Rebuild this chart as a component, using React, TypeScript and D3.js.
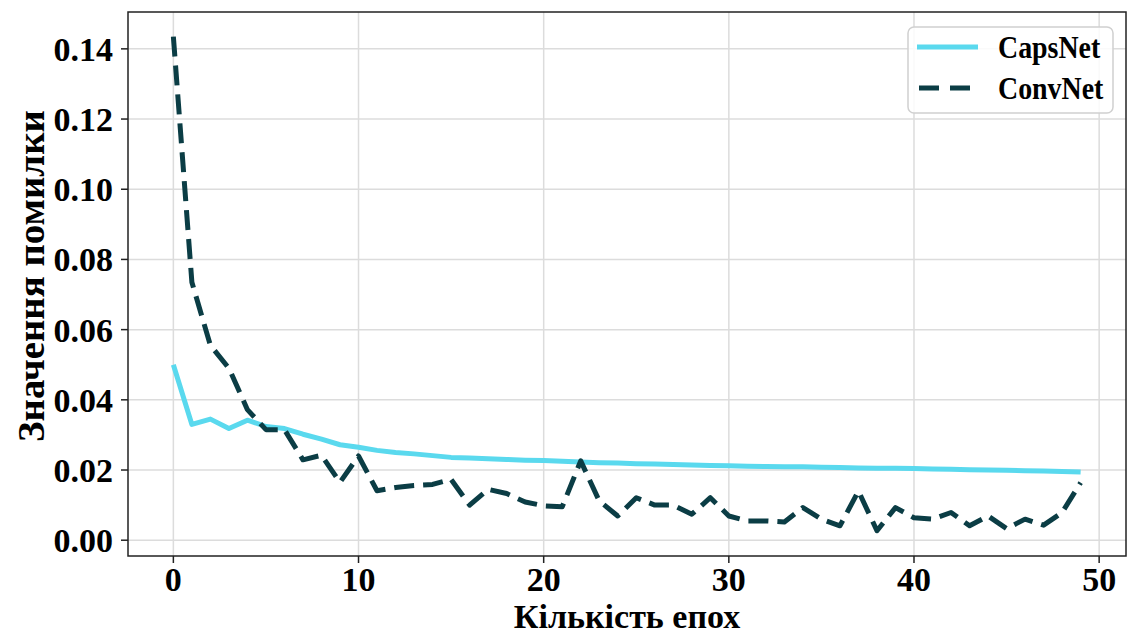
import React from "react";
import * as d3 from "d3";

const epochs = d3.range(50);
const capsNet = [
  0.05, 0.033, 0.0345, 0.0318, 0.0342, 0.0324, 0.0318, 0.0302, 0.0288, 0.0272,
  0.0265, 0.0256, 0.025, 0.0246, 0.0241, 0.0236, 0.0234, 0.0232, 0.023, 0.0228,
  0.0227, 0.0225, 0.0223, 0.0221, 0.022, 0.0218, 0.0217, 0.0216, 0.0214, 0.0213,
  0.0212, 0.0211, 0.021, 0.0209, 0.0209, 0.0208, 0.0207, 0.0206, 0.0205, 0.0205,
  0.0204, 0.0203, 0.0202, 0.0201, 0.02, 0.0199, 0.0198, 0.0197, 0.0196, 0.0194,
];
const convNet = [
  0.1435, 0.0735, 0.0555, 0.049, 0.0372, 0.0315, 0.0315, 0.0229, 0.0242, 0.0165,
  0.024, 0.0141, 0.015, 0.0156, 0.0159, 0.0173, 0.01, 0.0145, 0.0133, 0.0109,
  0.0098, 0.0095, 0.0226, 0.0112, 0.0069, 0.0121, 0.01, 0.01, 0.0074, 0.0121,
  0.0069, 0.0055, 0.0055, 0.0052, 0.0093, 0.006, 0.0041, 0.014, 0.0027, 0.0093,
  0.0064, 0.006, 0.0079, 0.0041, 0.0069, 0.0033, 0.006, 0.0043, 0.0079, 0.0164,
];
const xTicks = [0, 10, 20, 30, 40, 50];
const yTicks = [0, 0.02, 0.04, 0.06, 0.08, 0.1, 0.12, 0.14];
const seriesNames = ["CapsNet", "ConvNet"];
const xLabel = "Кількість епох";
const yLabel = "Значення помилки";

const W = 1129;
const H = 635;
const L = 128, R = 1126, T = 12, B = 556;
const CAPS_COLOR = "#5ad9ee";
const CONV_COLOR = "#0b3d45";
const FONT = "'Liberation Serif', 'Times New Roman', serif";

export default function App() {
  const x = d3.scaleLinear().domain([-2.45, 51.45]).range([L, R]);
  const y = d3.scaleLinear().domain([-0.0045, 0.1505]).range([B, T]);
  const line = d3
    .line<number>()
    .x((_, i) => x(epochs[i]))
    .y((d) => y(d));

  return (
    <svg
      width={W}
      height={H}
      style={{ position: "absolute", left: 0, top: 0, background: "#fff" }}
      fontFamily={FONT}
      fontWeight="bold"
    >
      <rect x={0} y={0} width={W} height={H} fill="#fff" />
      {/* grid */}
      {xTicks.map((t) => (
        <line key={"gx" + t} x1={x(t)} x2={x(t)} y1={T} y2={B} stroke="#dcdcdc" strokeWidth={1.5} />
      ))}
      {yTicks.map((t) => (
        <line key={"gy" + t} x1={L} x2={R} y1={y(t)} y2={y(t)} stroke="#dcdcdc" strokeWidth={1.5} />
      ))}
      {/* lines */}
      <path d={line(capsNet) || ""} fill="none" stroke={CAPS_COLOR} strokeWidth={5} strokeLinejoin="round" />
      <path
        d={line(convNet) || ""}
        fill="none"
        stroke={CONV_COLOR}
        strokeWidth={5}
        strokeDasharray="20 9"
        strokeLinejoin="round"
      />
      {/* frame */}
      <rect x={L} y={T} width={R - L} height={B - T} fill="none" stroke="#222" strokeWidth={1.5} />
      {/* ticks */}
      {xTicks.map((t) => (
        <g key={"tx" + t}>
          <line x1={x(t)} x2={x(t)} y1={B} y2={B + 7} stroke="#222" strokeWidth={1.5} />
          <text x={x(t)} y={B + 35} fontSize={34} textAnchor="middle" fill="#000">
            {t}
          </text>
        </g>
      ))}
      {yTicks.map((t) => (
        <g key={"ty" + t}>
          <line x1={L - 7} x2={L} y1={y(t)} y2={y(t)} stroke="#222" strokeWidth={1.5} />
          <text x={L - 15} y={y(t)} dy="0.35em" fontSize={34} textAnchor="end" fill="#000">
            {t.toFixed(2)}
          </text>
        </g>
      ))}
      {/* axis labels */}
      <text x={(L + R) / 2} y={628} fontSize={34} textAnchor="middle" fill="#000">
        {xLabel}
      </text>
      <text
        transform={`translate(44, 276) rotate(-90) scale(1.05, 1.0)`}
        fontSize={37}
        textAnchor="middle"
        fill="#000"
      >
        {yLabel}
      </text>
      {/* legend */}
      <g>
        <rect x={908} y={27} width={205} height={86} rx={6} fill="#fff" fillOpacity={0.85} stroke="#d0d0d0" strokeWidth={1.5} />
        <line x1={917} x2={978} y1={47} y2={47} stroke={CAPS_COLOR} strokeWidth={5} />
        <text transform="translate(998, 47) scale(0.93, 1.05)" dy="0.35em" fontSize={30} fill="#000">
          {seriesNames[0]}
        </text>
        <line x1={919} x2={976} y1={88} y2={88} stroke={CONV_COLOR} strokeWidth={5} strokeDasharray="20 11" />
        <text transform="translate(998, 88) scale(0.93, 1.05)" dy="0.35em" fontSize={30} fill="#000">
          {seriesNames[1]}
        </text>
      </g>
    </svg>
  );
}
